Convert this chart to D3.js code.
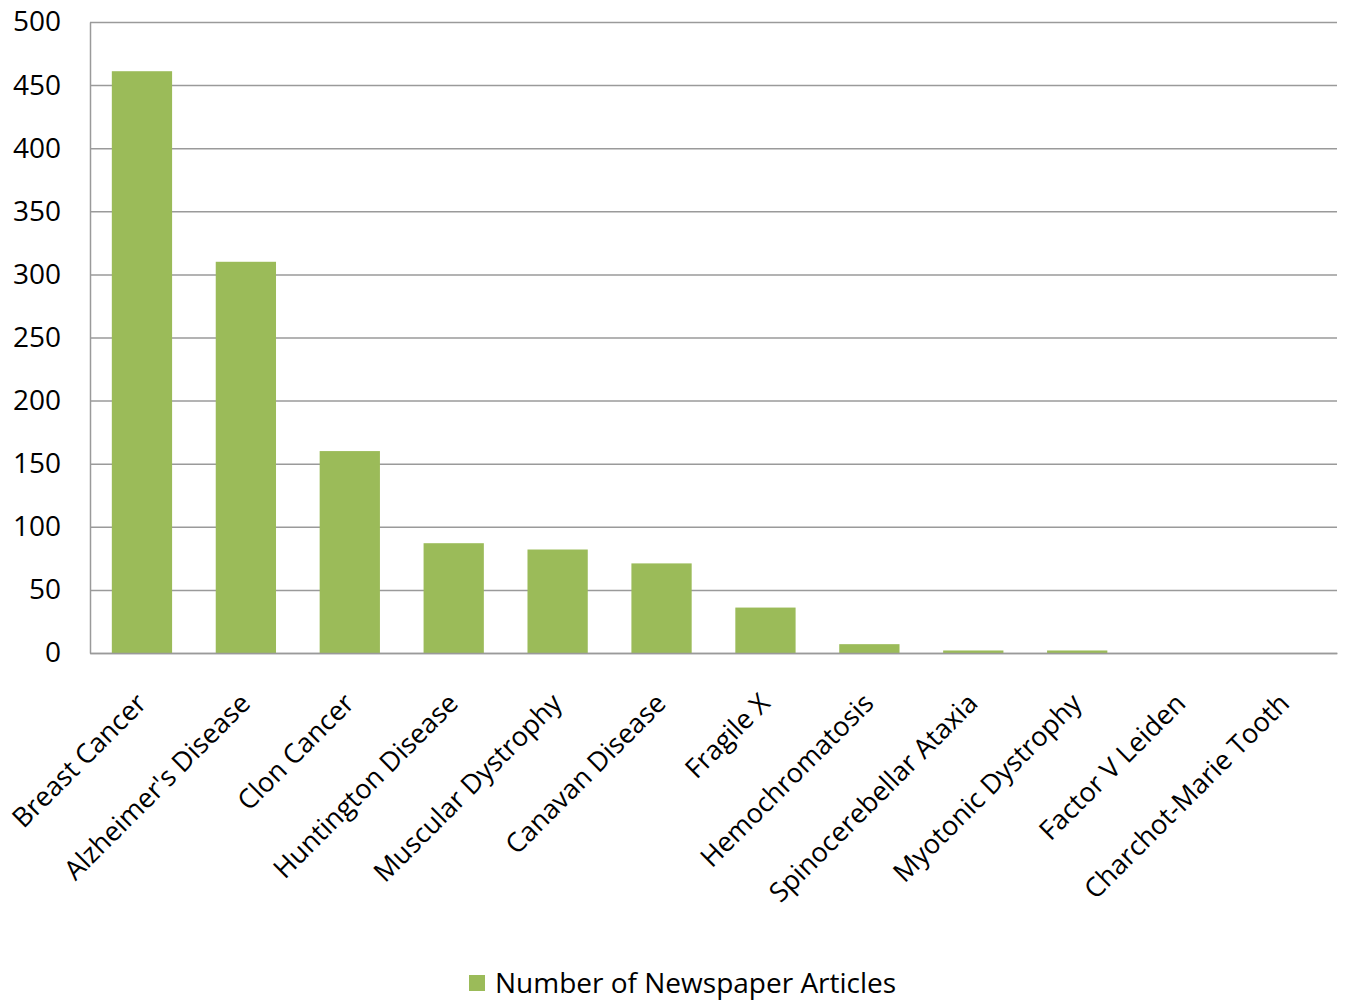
<!DOCTYPE html>
<html>
<head>
<meta charset="utf-8">
<script src="https://cdn.jsdelivr.net/npm/d3@7"></script>
<style>
    body { margin: 0; background: #fff; }
    text { font-family: "Open Sans", sans-serif; fill: #000; }
</style>
</head>
<body>
<div id="chart"></div>
<script>
// chart data
let diseases = ["Breast Cancer", "Alzheimer's Disease", "Clon Cancer", "Huntington Disease",
    "Muscular Dystrophy", "Canavan Disease", "Fragile X", "Hemochromatosis",
    "Spinocerebellar Ataxia", "Myotonic Dystrophy", "Factor V Leiden", "Charchot-Marie Tooth"];
let articles = [461, 310, 160, 87, 82, 71, 36, 7, 2, 2, 0, 0];
let yTicks = [0, 50, 100, 150, 200, 250, 300, 350, 400, 450, 500];
let seriesName = "Number of Newspaper Articles";

let data = diseases.map((d, i) => ({name: d, value: articles[i]}));

// margin, width, height
let margin = {top: 22, right: 8, bottom: 348, left: 90};
let width = 1345 - margin.left - margin.right;
let height = 1001 - margin.top - margin.bottom;

let svg = d3.select("#chart").append("svg")
    .attr("width", 1345)
    .attr("height", 1001)
    .append("g")
    .attr("transform", `translate(${margin.left}, ${margin.top})`);

// scales
let x = d3.scaleBand()
    .domain(diseases)
    .range([0, width])
    .paddingInner(0.42)
    .paddingOuter(0.21);
let y = d3.scaleLinear()
    .domain([0, 500])
    .range([height, 0]);

// gridlines
svg.append("g")
    .attr("class", "grid")
    .call(d3.axisLeft(y).tickValues(yTicks).tickSize(-width).tickFormat(""))
    .call(g => g.select(".domain").remove())
    .selectAll("line")
    .attr("stroke", "#9a9a9a")
    .attr("stroke-width", 1.5);

// bars
svg.selectAll(".bar")
    .data(data)
    .enter()
    .append("rect")
    .attr("class", "bar")
    .attr("x", d => x(d.name))
    .attr("y", d => y(d.value))
    .attr("width", x.bandwidth())
    .attr("height", d => height - y(d.value))
    .attr("fill", "#9bbb59");

// y axis
let yAxis = svg.append("g")
    .attr("class", "y-axis")
    .call(d3.axisLeft(y).tickValues(yTicks).tickSize(0).tickPadding(29));
yAxis.select(".domain").attr("stroke", "#9a9a9a").attr("stroke-width", 1.5);
yAxis.selectAll("text")
    .style("font-size", "28px")
    .style("font-family", "'Open Sans', sans-serif");

// x axis
let xAxis = svg.append("g")
    .attr("class", "x-axis")
    .attr("transform", `translate(0, ${height})`)
    .call(d3.axisBottom(x).tickSize(0).tickFormat(""));
xAxis.select(".domain").attr("stroke", "#9a9a9a").attr("stroke-width", 1.5);

// rotated category labels
svg.append("g")
    .selectAll("text")
    .data(diseases)
    .enter()
    .append("text")
    .attr("transform", d => `translate(${x(d) + x.bandwidth() / 2 + 6}, ${height + 52}) rotate(-45)`)
    .attr("text-anchor", "end")
    .style("font-size", "27px")
    .text(d => d);

// legend
let legend = svg.append("g")
    .attr("transform", `translate(${469 - margin.left}, ${975 - margin.top})`);
legend.append("rect")
    .attr("width", 16)
    .attr("height", 16)
    .attr("fill", "#9bbb59");
legend.append("text")
    .attr("x", 26)
    .attr("y", 8)
    .attr("dy", "0.35em")
    .style("font-size", "28px")
    .text(seriesName);
</script>
</body>
</html>
